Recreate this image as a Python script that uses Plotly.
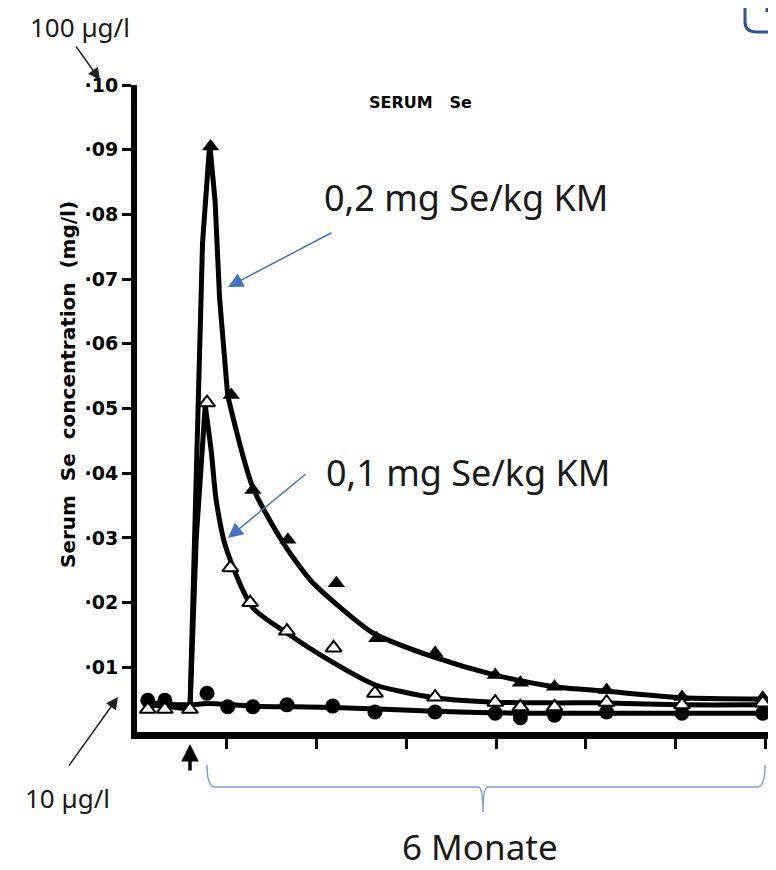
import plotly.graph_objects as go

# ---------------- data ----------------
# x: time (tick units, injection near 0.6), y: serum Se (mg/l)
ctrl_x = [0.12, 0.31, 0.78, 1.01, 1.29, 1.67, 2.18, 2.65, 3.32, 3.99, 4.27, 4.65, 5.23, 6.07, 6.97]
ctrl_y = [0.0049, 0.0049, 0.0060, 0.0039, 0.0039, 0.0042, 0.0040, 0.0031, 0.0031, 0.0029, 0.0022, 0.0026, 0.0031, 0.0029, 0.0029]

hi_x = [0.12, 0.31, 0.59, 0.82, 1.05, 1.29, 1.68, 2.22, 2.67, 3.32, 3.99, 4.27, 4.65, 5.23, 6.07, 6.97]
hi_y = [0.0035, 0.0035, 0.0035, 0.0905, 0.0521, 0.0374, 0.0297, 0.0230, 0.0145, 0.0122, 0.0088, 0.0076, 0.0070, 0.0065, 0.0054, 0.0053]

lo_x = [0.12, 0.31, 0.59, 0.78, 1.04, 1.26, 1.67, 2.19, 2.65, 3.32, 3.99, 4.27, 4.65, 5.23, 6.07, 6.97]
lo_y = [0.0035, 0.0035, 0.0035, 0.0509, 0.0254, 0.0200, 0.0156, 0.0130, 0.0060, 0.0054, 0.0046, 0.0039, 0.0039, 0.0046, 0.0042, 0.0045]

# fitted curves
ctrl_fit_x = [0.08, 0.59, 0.78, 1.29, 2.18, 3.32, 4.27, 5.23, 7.0]
ctrl_fit_y = [0.0045, 0.0042, 0.0044, 0.0040, 0.0038, 0.0032, 0.0029, 0.0029, 0.0029]

hi_rise_x = [0.08, 0.31, 0.59, 0.68, 0.73, 0.81]
hi_rise_y = [0.0042, 0.0040, 0.0035, 0.046, 0.0756, 0.091]
hi_peak_x = [0.81, 0.87, 0.92, 1.01]
hi_peak_y = [0.091, 0.082, 0.067, 0.052]
hi_fit_x = [1.01, 1.29, 1.63, 1.93, 2.26, 2.63, 3.30, 3.99, 4.65, 5.23, 6.07, 7.0]
hi_fit_y = [0.052, 0.0378, 0.0292, 0.0235, 0.0193, 0.0153, 0.0116, 0.0088, 0.0070, 0.0063, 0.0053, 0.0051]

lo_rise_x = [0.59, 0.66, 0.76]
lo_rise_y = [0.0035, 0.030, 0.0505]
lo_fit_x = [0.76, 0.83, 0.88, 0.99, 1.29, 1.67, 2.14, 2.65, 3.32, 3.99, 4.65, 5.23, 6.07, 7.0]
lo_fit_y = [0.0505, 0.043, 0.036, 0.0285, 0.0192, 0.0153, 0.0111, 0.0073, 0.0053, 0.0046, 0.0045, 0.0045, 0.0042, 0.0042]

y_ticks = [0.01, 0.02, 0.03, 0.04, 0.05, 0.06, 0.07, 0.08, 0.09, 0.10]
y_ticktext = ["·01", "·02", "·03", "·04", "·05", "·06", "·07", "·08", "·09", "·10"]
x_ticks = [1, 2, 3, 4, 5, 6, 7]

# ---------------- layout geometry (screen pixels; page body has 8px margin) ----------------
OFF = 8
W, H = 768, 862
ML, MR, MT, MB = 137 - OFF, 6, 85 - OFF, 138
PW, PH = W - ML - MR, H - MT - MB


def px(xs):
    return (xs - OFF - ML) / PW


def py(ys):
    return (H - MB - (ys - OFF)) / PH


fig = go.Figure()

LW = 5
for xs, ys, shape in [(ctrl_fit_x, ctrl_fit_y, "spline"),
                      (hi_rise_x, hi_rise_y, "linear"),
                      (hi_peak_x, hi_peak_y, "linear"),
                      (hi_fit_x, hi_fit_y, "spline"),
                      (lo_rise_x, lo_rise_y, "linear"),
                      (lo_fit_x, lo_fit_y, "spline")]:
    fig.add_trace(go.Scatter(x=xs, y=ys, mode="lines",
                             line=dict(color="black", width=LW, shape=shape, smoothing=0.7),
                             hoverinfo="skip", showlegend=False))

fig.add_trace(go.Scatter(x=ctrl_x, y=ctrl_y, mode="markers",
                         marker=dict(symbol="circle", size=15, color="black"),
                         showlegend=False))
fig.add_trace(go.Scatter(x=hi_x, y=hi_y, mode="markers",
                         marker=dict(symbol="triangle-up", size=15, color="black"),
                         showlegend=False))
fig.add_trace(go.Scatter(x=lo_x, y=lo_y, mode="markers",
                         marker=dict(symbol="triangle-up", size=14, color="white",
                                     line=dict(color="black", width=2)),
                         showlegend=False))

tick_font = dict(family="DejaVu Sans", size=19, color="black", weight="bold")

fig.update_xaxes(range=[0, 7.05], showgrid=False, zeroline=False,
                 showline=True, linewidth=7, linecolor="black",
                 ticks="outside", tickvals=x_ticks, ticklen=10, tickwidth=3,
                 tickcolor="black", showticklabels=False)
fig.update_yaxes(range=[0, 0.10], showgrid=False, zeroline=False,
                 showline=True, linewidth=6, linecolor="black",
                 ticks="outside", tickvals=y_ticks, ticktext=y_ticktext,
                 ticklen=9, tickwidth=3, tickcolor="black", tickfont=tick_font)

label_font = dict(family="Noto Sans", size=36, color="#1a1a1a")
bottom_font = dict(family="Noto Sans", size=35, color="#1a1a1a")
small_font = dict(family="Noto Sans", size=26, color="#1a1a1a")

annotations = [
    dict(x=px(420), y=py(103), text="SERUM&nbsp;&nbsp; Se", showarrow=False,
         font=dict(family="DejaVu Sans", size=16, color="black", weight="bold")),
    dict(x=px(68), y=py(385), text="Serum&nbsp;&nbsp;Se&nbsp;&nbsp;concentration&nbsp;&nbsp;(mg/l)",
         textangle=-90, showarrow=False,
         font=dict(family="DejaVu Sans", size=20, color="black", weight="bold")),
    dict(x=px(80), y=py(27), text="100 µg/l", showarrow=False, font=small_font),
    dict(x=px(67), y=py(798), text="10 µg/l", showarrow=False, font=small_font),
    dict(x=px(466), y=py(197), text="0,2 mg Se/kg KM", showarrow=False, font=label_font),
    dict(x=px(468), y=py(473), text="0,1 mg Se/kg KM", showarrow=False, font=label_font),
    dict(x=px(480), y=py(846), text="6 Monate", showarrow=False, font=bottom_font),
    # arrows
    dict(x=px(100), y=py(80), ax=-25, ay=-35, text="", showarrow=True,
         arrowhead=2, arrowsize=1.6, arrowwidth=1.5, arrowcolor="#222"),
    dict(x=px(118), y=py(697), ax=-50, ay=70, text="", showarrow=True,
         arrowhead=2, arrowsize=1.6, arrowwidth=1.5, arrowcolor="#222"),
    dict(x=px(228), y=py(287), ax=105, ay=-55, text="", showarrow=True,
         arrowhead=2, arrowsize=2.0, arrowwidth=1.5, arrowcolor="#4472C4"),
    dict(x=px(228), y=py(538), ax=79, ay=-65, text="", showarrow=True,
         arrowhead=2, arrowsize=2.0, arrowwidth=1.5, arrowcolor="#4472C4"),
    dict(x=px(190), y=py(744), ax=0, ay=28, text="", showarrow=True,
         arrowhead=2, arrowsize=1.0, arrowwidth=3.5, arrowcolor="black"),
]
for a in annotations:
    a.setdefault("xref", "paper")
    a.setdefault("yref", "paper")
    a.setdefault("xanchor", "center")
    a.setdefault("yanchor", "middle")
fig.update_layout(annotations=annotations)

# brace
pts = [(207, 765), (207, 787), (215, 787), (478, 787), (483, 787), (483, 812),
       (483, 787), (488, 787), (757, 787), (765, 787), (765, 765)]
p = [(px(a), py(b)) for a, b in pts]
brace = (f"M {p[0][0]},{p[0][1]} Q {p[1][0]},{p[1][1]} {p[2][0]},{p[2][1]} "
         f"L {p[3][0]},{p[3][1]} Q {p[4][0]},{p[4][1]} {p[5][0]},{p[5][1]} "
         f"Q {p[6][0]},{p[6][1]} {p[7][0]},{p[7][1]} L {p[8][0]},{p[8][1]} "
         f"Q {p[9][0]},{p[9][1]} {p[10][0]},{p[10][1]}")
corner = [(745, 8), (745, 22), (745, 32), (757, 32), (780, 32)]
c = [(px(a), py(b)) for a, b in corner]
corner_path = (f"M {c[0][0]},{c[0][1]} L {c[1][0]},{c[1][1]} "
               f"Q {c[2][0]},{c[2][1]} {c[3][0]},{c[3][1]} L {c[4][0]},{c[4][1]}")
fig.update_layout(shapes=[
    dict(type="path", xref="paper", yref="paper", path=brace,
         line=dict(color="#7F9FD3", width=1.5)),
    dict(type="path", xref="paper", yref="paper", path=corner_path,
         line=dict(color="#2F5597", width=3)),
    dict(type="line", xref="paper", yref="paper", x0=px(767), x1=px(767),
         y0=py(8), y1=py(12), line=dict(color="#2F5597", width=3)),
])

fig.update_layout(width=W, height=H, margin=dict(l=ML, r=MR, t=MT, b=MB),
                  plot_bgcolor="white", paper_bgcolor="white", showlegend=False)

fig.write_html("out.html")
